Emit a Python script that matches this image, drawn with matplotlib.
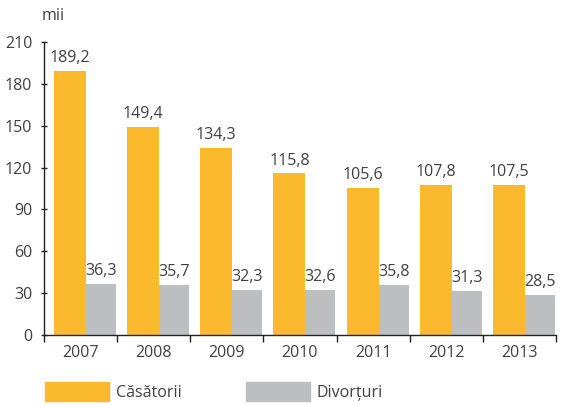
import matplotlib
matplotlib.use("Agg")
import matplotlib.pyplot as plt
from matplotlib.patches import Patch
import numpy as np

years = ["2007", "2008", "2009", "2010", "2011", "2012", "2013"]
casatorii = [189.2, 149.4, 134.3, 115.8, 105.6, 107.8, 107.5]
divorturi = [36.3, 35.7, 32.3, 32.6, 35.8, 31.3, 28.5]
yticks = [0, 30, 60, 90, 120, 150, 180, 210]

orange = "#FBBA2E"
gray = "#BDBEC0"
txt = "#404040"
fs = 11.5

plt.rcParams["font.family"] = ["Open Sans", "DejaVu Sans"]

fig = plt.figure(figsize=(5.63, 4.05), dpi=100)
ax = fig.add_axes([44 / 563, (405 - 335) / 405, (556 - 44) / 563, (335 - 42) / 405])

x = np.arange(len(years))
ax.bar(x + 0.137, casatorii, width=0.438, align="edge", color=orange)
ax.bar(x + 0.575, divorturi, width=0.41, align="edge", color=gray)

for xi, v in zip(x, casatorii):
    ax.text(xi + 0.137 + 0.219, v + 3.5, f"{v:.1f}".replace(".", ","),
            ha="center", va="bottom", fontsize=fs, color=txt)
for xi, v in zip(x, divorturi):
    ax.text(xi + 0.575 + 0.205, v + 3.5, f"{v:.1f}".replace(".", ","),
            ha="center", va="bottom", fontsize=fs, color=txt)

ax.set_xlim(0, len(years))
ax.set_ylim(0, 210)
ax.set_yticks(yticks)
ax.set_xticks(np.arange(len(years) + 1))
ax.set_xticklabels([])
ax.set_xticks(x + 0.5, minor=True)
ax.set_xticklabels(years, minor=True)

ax.tick_params(axis="y", direction="inout", length=5, width=1, pad=6,
               labelsize=fs, labelcolor=txt, color="#222222")
ax.tick_params(axis="x", which="major", direction="out", length=5, width=1, color="#222222")
ax.tick_params(axis="x", which="minor", length=0, pad=7.5, labelsize=fs, labelcolor=txt)

for s in ["top", "right"]:
    ax.spines[s].set_visible(False)
for s in ["left", "bottom"]:
    ax.spines[s].set_color("#222222")
    ax.spines[s].set_linewidth(1)

fig.text(42 / 563, 1 - 16 / 405, "mii", fontsize=fs, color=txt, va="center", ha="left")

handles = [Patch(color=orange, label="Căsătorii"), Patch(color=gray, label="Divorțuri")]
fig.legend(handles=handles, loc="lower left", bbox_to_anchor=(45 / 563, 4 / 405),
           ncol=2, frameon=False, fontsize=fs, handlelength=4.0, handleheight=1.4,
           handletextpad=0.45, columnspacing=4.0, borderpad=0, borderaxespad=0,
           labelcolor=txt)

fig.savefig("out.png", dpi=100)
